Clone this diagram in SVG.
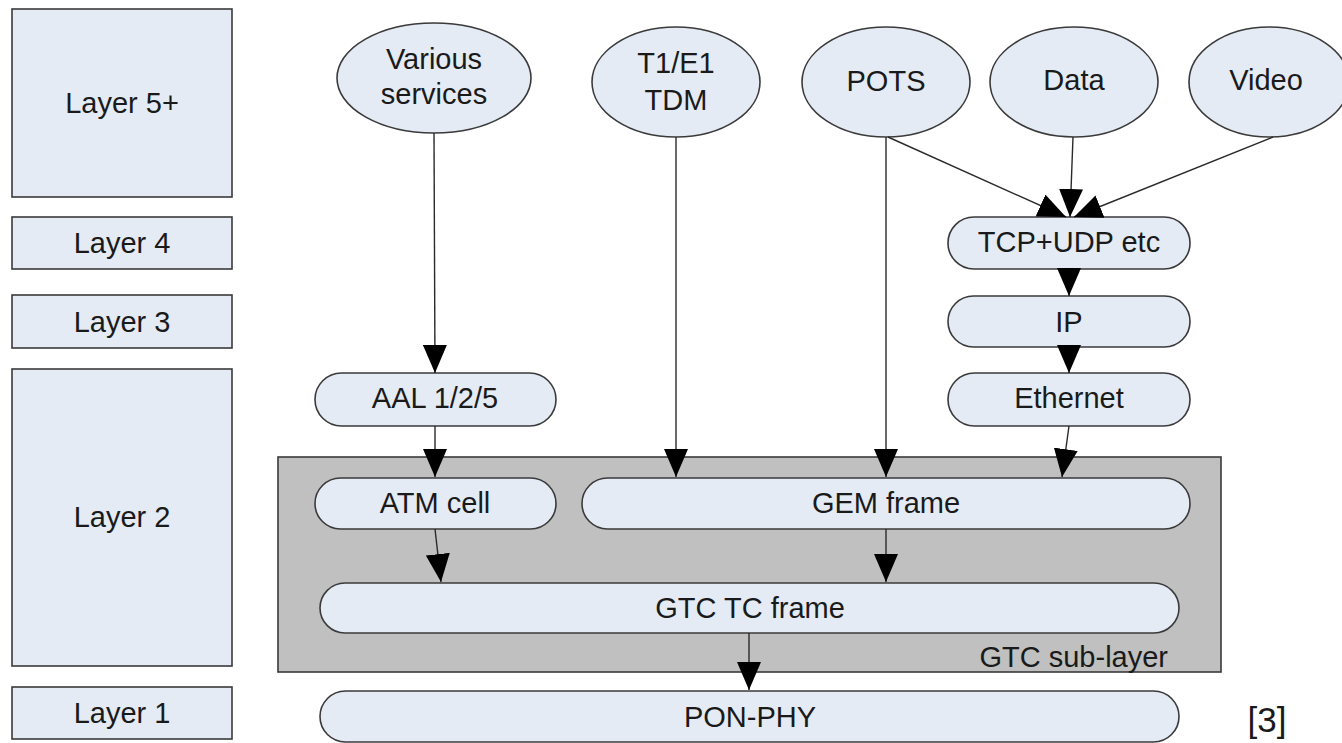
<svg xmlns="http://www.w3.org/2000/svg" width="1342" height="743" viewBox="0 0 1342 743">
<style>
  .box{fill:#E4EBF5;stroke:#3a3a3a;stroke-width:1.6}
  .gray{fill:#C0C0C0;stroke:#3a3a3a;stroke-width:1.6}
  .t{font-family:"Liberation Sans",Arial,sans-serif;font-size:29px;fill:#1a1a1a;text-anchor:middle}
  .c{fill:none;stroke:#2a2a2a;stroke-width:1.4}
</style>
<defs>
  <marker id="ah" viewBox="0 0 28 24" refX="28" refY="12" markerWidth="28" markerHeight="24" markerUnits="userSpaceOnUse" orient="auto">
    <path d="M0,0 L28,12 L0,24 z" fill="#000"/>
  </marker>
</defs>
<rect width="1342" height="743" fill="#fff"/>

<g id="layer5"><rect class="box" x="12" y="9" width="220" height="188"/><text class="t" x="122" y="113">Layer 5+</text></g>
<g id="layer4"><rect class="box" x="12" y="217" width="220" height="52"/><text class="t" x="122" y="253">Layer 4</text></g>
<g id="layer3"><rect class="box" x="12" y="295" width="220" height="53"/><text class="t" x="122" y="332">Layer 3</text></g>
<g id="layer2"><rect class="box" x="12" y="369" width="220" height="297"/><text class="t" x="122" y="527">Layer 2</text></g>
<g id="layer1"><rect class="box" x="12" y="687" width="220" height="52"/><text class="t" x="122" y="723">Layer 1</text></g>

<g id="gtc-sublayer"><rect class="gray" x="278" y="457" width="943" height="215"/><text class="t" x="1168" y="667" style="text-anchor:end">GTC sub-layer</text></g>

<g id="various"><ellipse class="box" cx="434" cy="78" rx="97" ry="55"/><text class="t" x="434" y="69">Various</text><text class="t" x="434" y="104">services</text></g>
<g id="t1e1"><ellipse class="box" cx="676" cy="82" rx="84" ry="55"/><text class="t" x="676" y="73">T1/E1</text><text class="t" x="676" y="110">TDM</text></g>
<g id="pots"><ellipse class="box" cx="886" cy="82" rx="84" ry="55"/><text class="t" x="886" y="91">POTS</text></g>
<g id="data"><ellipse class="box" cx="1074" cy="82" rx="84" ry="55"/><text class="t" x="1074" y="90">Data</text></g>
<g id="video"><ellipse class="box" cx="1269" cy="82" rx="80" ry="55"/><text class="t" x="1266" y="90">Video</text></g>

<g id="tcpudp"><rect class="box" x="948" y="217" width="242" height="52" rx="26"/><text class="t" x="1069" y="252">TCP+UDP etc</text></g>
<g id="ip"><rect class="box" x="948" y="296" width="242" height="51" rx="25.5"/><text class="t" x="1069" y="332">IP</text></g>
<g id="ethernet"><rect class="box" x="948" y="373" width="242" height="53" rx="26.5"/><text class="t" x="1069" y="408">Ethernet</text></g>
<g id="aal"><rect class="box" x="315" y="373" width="241" height="53" rx="26.5"/><text class="t" x="435" y="408">AAL 1/2/5</text></g>
<g id="atm"><rect class="box" x="315" y="478" width="241" height="51" rx="25.5"/><text class="t" x="435" y="513">ATM cell</text></g>
<g id="gem"><rect class="box" x="582" y="478" width="608" height="51" rx="25.5"/><text class="t" x="886" y="513">GEM frame</text></g>
<g id="gtctc"><rect class="box" x="320" y="583" width="859" height="50" rx="25"/><text class="t" x="750" y="618">GTC TC frame</text></g>
<g id="ponphy"><rect class="box" x="320" y="691" width="859" height="51" rx="25.5"/><text class="t" x="750" y="727">PON-PHY</text></g>

<g id="connectors">
  <line class="c" x1="434" y1="133" x2="435" y2="373" marker-end="url(#ah)"/>
  <line class="c" x1="676" y1="137" x2="676" y2="477" marker-end="url(#ah)"/>
  <line class="c" x1="886" y1="137" x2="886" y2="477" marker-end="url(#ah)"/>
  <line class="c" x1="888" y1="137" x2="1066" y2="217" marker-end="url(#ah)"/>
  <line class="c" x1="1073" y1="137" x2="1070" y2="217" marker-end="url(#ah)"/>
  <line class="c" x1="1273" y1="137" x2="1074" y2="217" marker-end="url(#ah)"/>
  <line class="c" x1="1069" y1="269" x2="1069" y2="296" marker-end="url(#ah)"/>
  <line class="c" x1="1069" y1="347" x2="1069" y2="373" marker-end="url(#ah)"/>
  <line class="c" x1="1069" y1="426" x2="1062" y2="477" marker-end="url(#ah)"/>
  <line class="c" x1="435" y1="426" x2="435" y2="477" marker-end="url(#ah)"/>
  <line class="c" x1="435" y1="529" x2="441" y2="582" marker-end="url(#ah)"/>
  <line class="c" x1="886" y1="529" x2="886" y2="582" marker-end="url(#ah)"/>
  <line class="c" x1="749" y1="633" x2="749" y2="690" marker-end="url(#ah)"/>
</g>

<text class="t" x="1267" y="732" style="font-size:35px">[3]</text>
</svg>
